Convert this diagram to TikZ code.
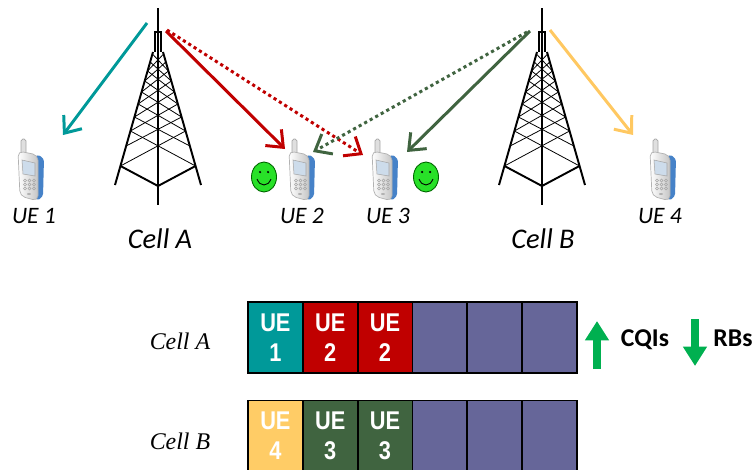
\documentclass[tikz,border=0pt]{standalone}
\usepackage{fontspec}
\setmainfont{Carlito}
\newfontfamily\slotfont[FakeStretch=0.85]{Liberation Sans}
\newfontfamily\rowfont{Liberation Serif}
\usetikzlibrary{arrows.meta,calc}

\definecolor{ueteal}{RGB}{0,153,153}
\definecolor{uered}{RGB}{192,0,0}
\definecolor{uegreen}{RGB}{64,100,64}
\definecolor{ueyellow}{RGB}{255,204,102}
\definecolor{rbfree}{RGB}{102,102,153}
\definecolor{cqigreen}{RGB}{0,176,80}
\definecolor{smilegreen}{RGB}{40,225,40}
\definecolor{phoneblue}{RGB}{70,130,200}
\definecolor{screenblue}{RGB}{205,220,235}

\begin{document}
\begin{tikzpicture}[
  x=0.02cm, y=-0.02cm,
  sig/.style={line width=1.7pt, -{Straight Barb[length=8pt,width=13pt]}},
  dotsig/.style={sig, dash pattern=on 1.8pt off 1.8pt},
  cqiarrow/.style={line width=4pt, cqigreen, -{Triangle[length=11pt,width=13pt]}},
  uelbl/.style={anchor=base, font=\itshape\fontsize{13.4}{16}\selectfont},
  celllbl/.style={anchor=base, font=\itshape\fontsize{16.2}{19}\selectfont},
  rowlbl/.style={anchor=base, font=\rowfont\itshape\fontsize{13.6}{16}\selectfont},
  rbslot/.style={
    rectangle, draw=black, line width=1.1pt, inner sep=0pt,
    minimum width=1.0967cm, minimum height=1.42cm,
    text=white, align=center,
    font=\slotfont\bfseries\fontsize{14.6}{17}\selectfont
  },
  keylbl/.style={anchor=base, font=\bfseries\fontsize{14.6}{17}\selectfont},
  tower/.pic={
    \draw[line width=1pt] (0,0) -- (0,197);
    \draw[line width=0.9pt] (-3,44) -- (-3,24) -- (3,24) -- (3,44);
    \draw[line width=1.1pt] (-5,44) -- (-43,177) (5,44) -- (43,177);
    \draw[line width=1.1pt] (-37.5,158) -- (0,178) -- (37.5,158);
    \foreach \ya/\yb in {46/63,54/73,63/84,73/96,84/109,96/123,109/138,123/158}{
      \pgfmathsetmacro\xa{5+38*(\ya-44)/133}
      \pgfmathsetmacro\xb{5+38*(\yb-44)/133}
      \draw[line width=0.45pt] (-\xa,\ya) -- (\xb,\yb) (\xa,\ya) -- (-\xb,\yb);
    }
  },
  phone/.pic={
    \draw[gray!70, fill=gray!25, line width=0.4pt, rounded corners=1pt] (-12,-34) rectangle (-7,-18);
    \fill[phoneblue, rounded corners=2pt] (3,-19) -- (11,-15) -- (10,24) -- (3,28) -- cycle;
    \draw[gray!60, left color=white, right color=gray!45, rounded corners=3pt, line width=0.4pt]
      (-15,-22) -- (5,-18) -- (5,28) -- (-13,23) -- cycle;
    \draw[gray!70, fill=screenblue, line width=0.3pt] (-11,-13) -- (2,-10) -- (2,3) -- (-10,1) -- cycle;
    \foreach \kx in {0,1,2}
      \foreach \ky in {0,1,2}
        \draw[gray!70, line width=0.3pt] (-8+4.5*\kx, 7.5+4*\ky) circle (0.032cm);
    \fill[gray!60] (-4,21) ellipse (0.04cm and 0.02cm);
  },
  smiley/.pic={
    \draw[green!40!black, fill=smilegreen, line width=0.5pt] (0,0) ellipse (0.25cm and 0.3cm);
    \fill (-4,-5) circle (0.025cm) (4,-5) circle (0.025cm);
    \draw[line width=0.5pt] (-7,2) .. controls (-4,10) and (4,10) .. (7,2);
  }
]
\useasboundingbox (0,0) rectangle (755,470);

% -- Towers and handsets --
\pic at (158,8) {tower};
\pic at (542,8) {tower};

\pic at (33,173)  {phone};
\pic at (304,173) {phone};
\pic at (387,173) {phone};
\pic at (665,173) {phone};

\pic at (264,177) {smiley};
\pic at (426,177) {smiley};

\node[uelbl] (ue1) at (34,223)  {UE 1};
\node[uelbl] (ue2) at (302,223) {UE 2};
\node[uelbl] (ue3) at (388,223) {UE 3};
\node[uelbl] (ue4) at (660,223) {UE 4};

\node[celllbl] (cellA) at (160,248) {Cell A};
\node[celllbl] (cellB) at (543,248) {Cell B};

% -- Antenna and receive points --
\coordinate (txA-l) at (147,23);
\coordinate (txA-r) at (166,31);
\coordinate (txA-d) at (167,30);
\coordinate (txB-l) at (530,31);
\coordinate (txB-d) at (527,32);
\coordinate (txB-r) at (550,30);

\coordinate (rx1)  at (63,135);
\coordinate (rx2)  at (285,149);
\coordinate (rx2i) at (313,152);
\coordinate (rx3)  at (407,152);
\coordinate (rx3i) at (363,155);
\coordinate (rx4)  at (633,135);

% -- Links --
\draw[sig, ueteal]    (txA-l) -- (rx1);
\draw[sig, uered]     (txA-r) -- (rx2);
\draw[dotsig, uered]  (txA-d) -- (rx3i);
\draw[dotsig, uegreen](txB-d) -- (rx2i);
\draw[sig, uegreen]   (txB-l) -- (rx3);
\draw[sig, ueyellow!95!orange] (txB-r) -- (rx4);

% -- Resource blocks --
\node[rowlbl] (rowA) at (180,349) {Cell A};
\node[rowlbl] (rowB) at (180,449) {Cell B};

\foreach \i/\c/\t in {1/ueteal/1, 2/uered/2, 3/uered/2}
  \node[rbslot, fill=\c] (a\i) at (275.4+54.83*\i-54.83, 337.5) {UE\\\t};
\foreach \i in {4,5,6}
  \node[rbslot, fill=rbfree] (a\i) at (275.4+54.83*\i-54.83, 337.5) {};

\foreach \i/\c/\t in {1/ueyellow/4, 2/uegreen/3, 3/uegreen/3}
  \node[rbslot, fill=\c] (b\i) at (275.4+54.83*\i-54.83, 436) {UE\\\t};
\foreach \i in {4,5,6}
  \node[rbslot, fill=rbfree] (b\i) at (275.4+54.83*\i-54.83, 436) {};

% -- CQI / RB note --
\node[keylbl] (cqi) at (645,346) {CQIs};
\node[keylbl] (rbs) at (733,346) {RBs};

\coordinate (up-s) at (597,369);
\coordinate (up-e) at (597,321);
\coordinate (dn-s) at (695,319);
\coordinate (dn-e) at (695,366);

\draw[cqiarrow] (up-s) -- (up-e);
\draw[cqiarrow] (dn-s) -- (dn-e);

\end{tikzpicture}
\end{document}
